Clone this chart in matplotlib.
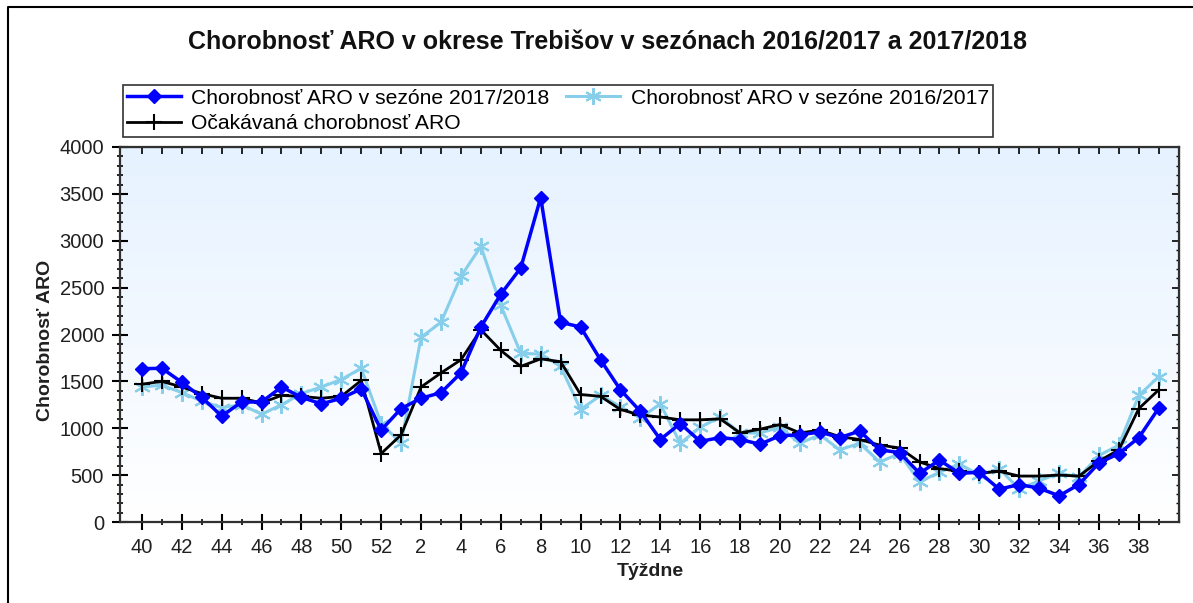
import numpy as np
import matplotlib
matplotlib.use("Agg")
import matplotlib.pyplot as plt
from matplotlib.ticker import MultipleLocator
from matplotlib.lines import Line2D

plt.rcParams['font.family'] = ['Liberation Sans', 'DejaVu Sans']

weeks = list(range(40, 53)) + list(range(1, 40))

aro_2017_2018 = [1635, 1640, 1490, 1330, 1130, 1280, 1280, 1440, 1330, 1260, 1320, 1420, 980,
                 1210, 1320, 1380, 1590, 2080, 2430, 2710, 3460, 2130, 2080, 1730, 1410, 1180,
                 880, 1050, 860, 900, 880, 830, 920, 930, 960, 900, 970, 770, 740, 520,
                 660, 520, 530, 350, 400, 360, 280, 400, 630, 730, 900, 1215]
aro_2016_2017 = [1440, 1460, 1380, 1290, 1220, 1250, 1150, 1250, 1370, 1440, 1520, 1640, 1050,
                 840, 1970, 2130, 2620, 2940, 2310, 1800, 1790, 1660, 1200, 1350, 1230, 1110,
                 1260, 840, 1010, 1120, 950, 950, 1010, 840, 930, 770, 840, 640, 730, 430,
                 530, 620, 500, 570, 350, 440, 520, 480, 710, 820, 1350, 1550]
expected = [1470, 1500, 1440, 1370, 1320, 1320, 1270, 1350, 1340, 1320, 1340, 1510, 730,
            930, 1440, 1590, 1730, 2050, 1830, 1660, 1740, 1710, 1360, 1340, 1200, 1140,
            1120, 1090, 1090, 1100, 950, 990, 1040, 950, 980, 910, 880, 820, 790, 640,
            570, 540, 520, 540, 490, 490, 500, 490, 650, 770, 1210, 1410]

W, H = 1193, 603
fig = plt.figure(figsize=(W / 100, H / 100), dpi=100)
ax = fig.add_axes([120 / W, 1 - 522 / H, (1178.7 - 120) / W, (522 - 147) / H])

x = np.arange(len(weeks))

# background gradient: light blue at top -> white at bottom
grad = np.linspace(0, 1, 256).reshape(-1, 1)
top = np.array([230, 242, 255]) / 255
bot = np.array([255, 255, 255]) / 255
img = (bot + (top - bot) * grad)[:, None, :].repeat(2, axis=1)
ax.imshow(img, extent=[0, 1, 0, 1], transform=ax.transAxes, origin='lower',
          aspect='auto', zorder=0)

ax.plot(x, aro_2016_2017, color='#87CEEB', lw=2.2, marker=(6, 2, 0), ms=12, mew=1.5,
        label='Chorobnosť ARO v sezóne 2016/2017', zorder=3)
ax.plot(x, expected, color='black', lw=2, marker='+', ms=12, mew=1.5,
        label='Očakávaná chorobnosť ARO', zorder=4)
ax.plot(x, aro_2017_2018, color='#0000FF', lw=2.5, marker='D', ms=7,
        label='Chorobnosť ARO v sezóne 2017/2018', zorder=5)

ax.set_xlim(-1.1, 52)
ax.set_ylim(0, 4000)
ax.set_xticks(x[::2])
ax.set_xticklabels([str(w) for w in weeks[::2]])
ax.set_xticks(x, minor=True)
ax.yaxis.set_major_locator(MultipleLocator(500))
ax.yaxis.set_minor_locator(MultipleLocator(100))

ax.tick_params(axis='both', which='major', direction='inout', length=11, width=1.5,
               labelsize=14.5, labelcolor='#202020', pad=6)
ax.tick_params(axis='both', which='minor', direction='inout', length=5, width=1.2)

for s in ax.spines.values():
    s.set_linewidth(1.6)
    s.set_color('#303030')

secx = ax.secondary_xaxis('top')
secx.set_xticks(x, labels=[])
secx.tick_params(direction='in', length=5, width=1.2)
secy = ax.secondary_yaxis('right')
secy.set_yticks(np.arange(0, 4001, 500), labels=[])
secy.yaxis.set_minor_locator(MultipleLocator(100))
secy.tick_params(which='major', direction='in', length=5, width=1.2)
secy.tick_params(which='minor', direction='in', length=2.5, width=1)

fig.text(650 / W, 1 - 572 / H, 'Týždne', ha='center', va='center',
         fontsize=14, fontweight='bold', color='#202020')
fig.text(46 / W, 1 - 340 / H, 'Chorobnosť ARO', ha='center', va='center',
         rotation=90, fontsize=14, fontweight='bold', color='#202020')
fig.text(607 / W, 1 - 42 / H,
         'Chorobnosť ARO v okrese Trebišov v sezónach 2016/2017 a 2017/2018',
         ha='center', va='center', fontsize=18, fontweight='bold', color='#111111')

h, l = ax.get_legend_handles_labels()
order = [2, 1, 0]
leg = fig.legend([h[i] for i in order], [l[i] for i in order], ncol=2,
                 loc='upper left', bbox_to_anchor=(123 / W, 1 - 85 / H),
                 fontsize=15.2, frameon=True, fancybox=False, edgecolor='black',
                 borderaxespad=0, handlelength=2.55, handletextpad=0.5,
                 columnspacing=0.8, labelspacing=0.3, borderpad=0.18)
leg.get_frame().set_linewidth(1.2)

fig.add_artist(Line2D([8 / W, 8 / W, 1], [0, 1 - 7 / H, 1 - 7 / H],
                      transform=fig.transFigure, color='black', lw=1.5))

fig.savefig('out.png', dpi=100)
